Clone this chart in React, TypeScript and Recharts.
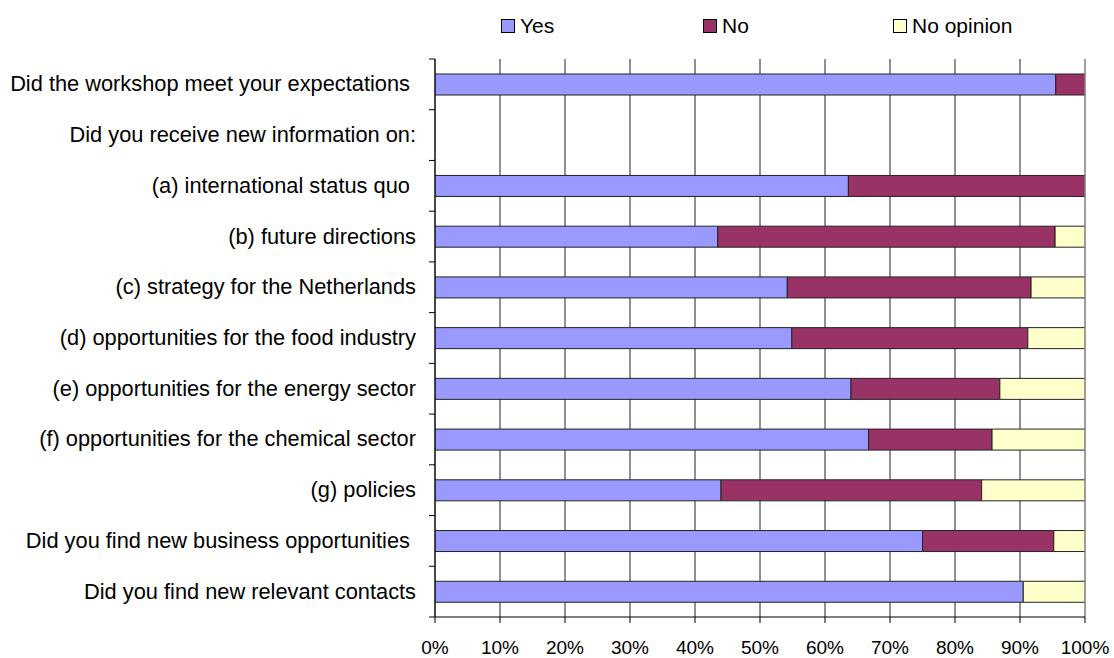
import React from "react";
import { BarChart, Bar, XAxis, YAxis, CartesianGrid, Legend, ReferenceLine } from "recharts";

const categories = [
  "Did the workshop meet your expectations ",
  "Did you receive new information on:",
  "(a) international status quo ",
  "(b) future directions",
  "(c) strategy for the Netherlands",
  "(d) opportunities for the food industry",
  "(e) opportunities for the energy sector",
  "(f) opportunities for the chemical sector",
  "(g) policies",
  "Did you find new business opportunities ",
  "Did you find new relevant contacts",
];
const yesValues = [95.5, 0, 63.6, 43.5, 54.2, 54.9, 64.0, 66.7, 44.0, 75.0, 90.5];
const noValues = [4.5, 0, 36.4, 51.9, 37.5, 36.3, 22.9, 19.0, 40.1, 20.2, 0];
const noOpinionValues = [0, 0, 0, 4.6, 8.3, 8.8, 13.1, 14.3, 15.9, 4.8, 9.5];
const seriesNames = ["Yes", "No", "No opinion"];
const seriesColors = ["#9999FF", "#993366", "#FFFFCC"];
const xTicks = [0, 10, 20, 30, 40, 50, 60, 70, 80, 90, 100];

const data = categories.map((c, i) => ({
  name: c,
  yes: yesValues[i],
  no: noValues[i],
  noOpinion: noOpinionValues[i],
}));

const FONT = "'Liberation Sans', Arial, sans-serif";
const Y_TICK_SIZE = 6;
const Y_TICK_MARGIN = 13;

const YTick = (props: any) => {
  const { x, y, payload, index, visibleTicksCount } = props;
  const half = payload && typeof payload.offset === "number" ? payload.offset : 0;
  const lx1 = x + Y_TICK_MARGIN;
  const lx2 = x + Y_TICK_MARGIN + Y_TICK_SIZE;
  const isLast = index === (visibleTicksCount ?? categories.length) - 1;
  return (
    <g>
      <line x1={lx1} x2={lx2} y1={y - half} y2={y - half} stroke="#000" strokeWidth={1} />
      {isLast && <line x1={lx1} x2={lx2} y1={y + half} y2={y + half} stroke="#000" strokeWidth={1} />}
      <text
        x={x}
        y={y}
        dy={7}
        textAnchor="end"
        fontSize={21.8}
        fill="#000"
        fontFamily={FONT}
        style={{ whiteSpace: "pre" }}
      >
        {payload.value}
      </text>
    </g>
  );
};

const legendLefts = [501, 703, 893];

const LegendContent = () => {
  return (
    <div style={{ position: "relative", width: 1114, height: 0 }}>
      {seriesNames.map((n, i) => (
        <div
          key={n}
          style={{
            position: "absolute",
            left: legendLefts[i],
            top: 0,
            display: "flex",
            alignItems: "center",
            height: 24,
            fontFamily: FONT,
            fontSize: 21,
            color: "#000",
            whiteSpace: "nowrap",
          }}
        >
          <span
            style={{
              display: "inline-block",
              width: 12,
              height: 12,
              background: seriesColors[i],
              border: "1px solid #000",
              marginRight: 5,
            }}
          />
          <span>{n}</span>
        </div>
      ))}
    </div>
  );
};

export default function App() {
  return (
    <div style={{ position: "absolute", left: 0, top: 0, width: 1114, height: 658, background: "#fff" }}>
      <BarChart
        width={1114}
        height={658}
        data={data}
        layout="vertical"
        margin={{ top: 59, right: 29, bottom: 6, left: 10 }}
        barSize={21}
      >
        <CartesianGrid horizontal={false} vertical={true} stroke="#222" strokeWidth={1} />
        <XAxis
          type="number"
          domain={[0, 100]}
          ticks={xTicks}
          allowDataOverflow
          tickFormatter={(v: number) => `${v}%`}
          tick={{ fontSize: 19, fill: "#000", fontFamily: FONT }}
          tickSize={6}
          tickMargin={18}
          height={35}
          axisLine={{ stroke: "#000" }}
          tickLine={{ stroke: "#000" }}
        />
        <XAxis
          xAxisId="top"
          orientation="top"
          type="number"
          domain={[0, 100]}
          height={0}
          tick={false}
          tickLine={false}
          axisLine={{ stroke: "#aaa" }}
        />
        <YAxis
          type="category"
          dataKey="name"
          width={425}
          tick={<YTick />}
          tickLine={false}
          tickSize={Y_TICK_SIZE}
          tickMargin={Y_TICK_MARGIN}
          axisLine={{ stroke: "#000" }}
          interval={0}
        />
        <ReferenceLine x={100} stroke="#aaa" />
        <Legend
          verticalAlign="top"
          align="left"
          wrapperStyle={{ top: 14, left: 0, width: 1114, height: 0 }}
          content={<LegendContent />}
        />
        <Bar dataKey="yes" name={seriesNames[0]} stackId="a" fill={seriesColors[0]} stroke="#222" strokeWidth={1} isAnimationActive={false} />
        <Bar dataKey="no" name={seriesNames[1]} stackId="a" fill={seriesColors[1]} stroke="#222" strokeWidth={1} isAnimationActive={false} />
        <Bar dataKey="noOpinion" name={seriesNames[2]} stackId="a" fill={seriesColors[2]} stroke="#222" strokeWidth={1} isAnimationActive={false} />
      </BarChart>
    </div>
  );
}
